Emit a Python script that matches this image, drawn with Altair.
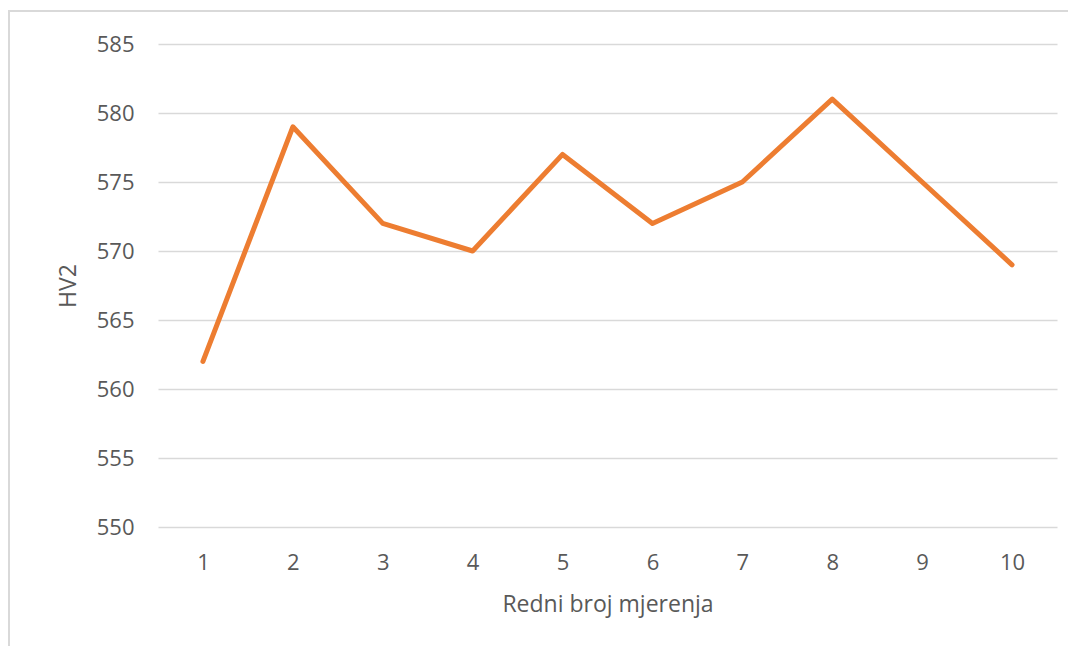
import altair as alt
import pandas as pd

measurements = [1, 2, 3, 4, 5, 6, 7, 8, 9, 10]
hv2 = [562, 579, 572, 570, 577, 572, 575, 581, 575, 569]
y_ticks = [550, 555, 560, 565, 570, 575, 580, 585]

df = pd.DataFrame({"n": measurements, "hv2": hv2})

W, H = 899, 483

line = alt.Chart(df).mark_line(color="#ED7D31", strokeWidth=5, strokeJoin="round", strokeCap="round").encode(
    x=alt.X("n:O", title="Redni broj mjerenja",
            scale=alt.Scale(type="point", padding=0.5),
            axis=alt.Axis(labelAngle=0, ticks=False, domain=False, labelPadding=25,
                          titlePadding=20, grid=False)),
    y=alt.Y("hv2:Q", title="HV2",
            scale=alt.Scale(domain=[550, 585], nice=False, zero=False),
            axis=alt.Axis(values=y_ticks, ticks=False, domain=False, labelPadding=24,
                          titlePadding=16, grid=True, gridColor="#D9D9D9", gridWidth=1.5)),
)

border = alt.Chart(pd.DataFrame({"a": [0]})).mark_rect(
    fill=None, stroke="#D9D9D9", strokeWidth=2, clip=False
).encode(
    x=alt.value(-149), x2=alt.value(W + 60), y=alt.value(-33), y2=alt.value(H + 200)
)

chart = alt.layer(border, line).properties(
    width=W, height=H,
    autosize=alt.AutoSizeParams(type="none"),
    padding={"left": 150, "top": 36, "right": 11, "bottom": 119},
).configure_view(stroke=None).configure_axis(
    labelFont="Open Sans", titleFont="Open Sans", labelColor="#595959", titleColor="#595959",
    labelFontSize=22, titleFontSize=23, titleFontWeight="normal"
)

chart.save("out.html", embed_options={"renderer": "svg", "actions": False})
